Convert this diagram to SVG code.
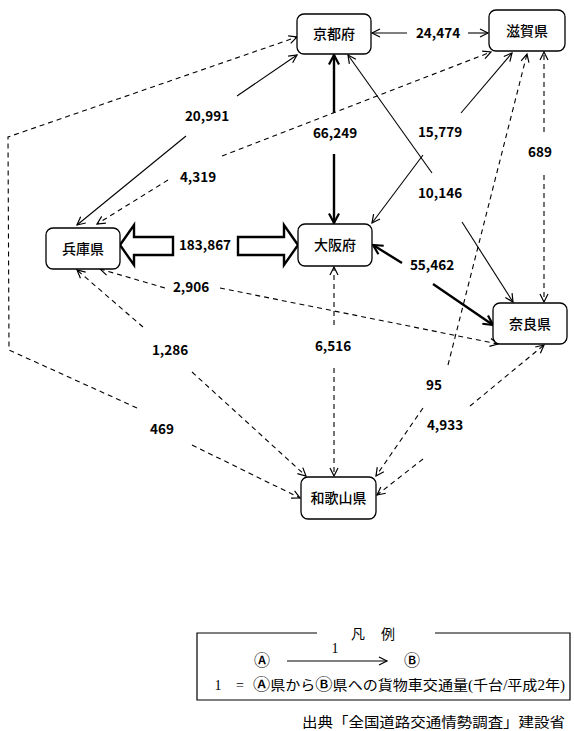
<svg xmlns="http://www.w3.org/2000/svg" width="574" height="731" viewBox="0 0 574 731">
<style>
.node rect{fill:#fff;stroke:#000;stroke-width:1.3}
.node text{font-family:"Noto Sans CJK JP","Noto Sans",sans-serif;font-size:14px;font-weight:500;text-anchor:middle}
.c{fill:none;stroke:#000;stroke-width:1.1}
.d{stroke-dasharray:5,4}
.t{stroke-width:2.4}
.lbl{font-family:"Noto Sans CJK JP","Noto Sans",sans-serif;font-size:13.5px;font-weight:700;text-anchor:middle}
.blk{fill:#fff;stroke:#000;stroke-width:2.4;stroke-linejoin:miter}
.lg{font-family:"Liberation Serif","Noto Sans CJK JP",serif;font-size:14px}
.cj{font-family:"Noto Sans CJK JP",sans-serif;font-weight:500;font-size:16px}
</style>
<defs>
<marker id="ah" markerUnits="userSpaceOnUse" markerWidth="12" markerHeight="12" refX="10" refY="6" orient="auto">
<path d="M2,2 L10,6 L2,10" fill="none" stroke="#000" stroke-width="1.2"/>
</marker>
<marker id="ahb" markerUnits="userSpaceOnUse" markerWidth="14" markerHeight="14" refX="11.5" refY="7" orient="auto">
<path d="M2,2 L11.5,7 L2,12" fill="none" stroke="#000" stroke-width="2.2"/>
</marker>
</defs>
<rect width="574" height="731" fill="#fff"/>
<g id="connectors">
<!-- 24,474 -->
<path class="c" d="M407,33 L372,33" marker-end="url(#ah)"/>
<path class="c" d="M468,33 L488,33" marker-end="url(#ah)"/>
<text class="lbl" x="438" y="38">24,474</text>
<!-- 20,991 -->
<path class="c" d="M237,96 L297,55" marker-end="url(#ah)"/>
<path class="c" d="M186,136 L77,225" marker-end="url(#ah)"/>
<text class="lbl" x="207" y="121">20,991</text>
<!-- 4,319 -->
<path class="c d" d="M222,156 L491,52" marker-end="url(#ah)"/>
<path class="c d" d="M168,180 L97,224" marker-end="url(#ah)"/>
<text class="lbl" x="198" y="182">4,319</text>
<!-- 469 -->
<path class="c d" d="M137,408 L9,350 L8,137 L297,37" marker-end="url(#ah)"/>
<path class="c d" d="M192,445 L300,498" marker-end="url(#ah)"/>
<text class="lbl" x="162" y="434">469</text>
<!-- 66,249 -->
<path class="c t" d="M334,113 L334,55" marker-end="url(#ahb)"/>
<path class="c t" d="M334,154 L334,223" marker-end="url(#ahb)"/>
<text class="lbl" x="335" y="138">66,249</text>
<!-- 15,779 -->
<path class="c" d="M461,113 L512,53" marker-end="url(#ah)"/>
<path class="c" d="M423,155 L372,223" marker-end="url(#ah)"/>
<text class="lbl" x="440" y="137">15,779</text>
<!-- 10,146 -->
<path class="c" d="M432,173 L348,55" marker-end="url(#ah)"/>
<path class="c" d="M462,222 L513,302" marker-end="url(#ah)"/>
<text class="lbl" x="440" y="198">10,146</text>
<!-- 689 -->
<path class="c d" d="M544,132 L544,52" marker-end="url(#ah)"/>
<path class="c d" d="M544,175 L544,302" marker-end="url(#ah)"/>
<text class="lbl" x="540" y="157">689</text>
<!-- 95 -->
<path class="c d" d="M448,365 L527,54" marker-end="url(#ah)"/>
<path class="c d" d="M423,408 L376,476" marker-end="url(#ah)"/>
<text class="lbl" x="434" y="390">95</text>
<!-- 4,933 -->
<path class="c d" d="M470,406 L544,345" marker-end="url(#ah)"/>
<path class="c d" d="M423,459 L377,495" marker-end="url(#ah)"/>
<text class="lbl" x="445" y="430">4,933</text>
<!-- 55,462 -->
<path class="c t" d="M402,263 L373,245" marker-end="url(#ahb)"/>
<path class="c t" d="M433,284 L493,325" marker-end="url(#ahb)"/>
<text class="lbl" x="432" y="270">55,462</text>
<!-- 2,906 -->
<path class="c d" d="M165,288 L100,269" marker-end="url(#ah)"/>
<path class="c d" d="M220,288 L498,344" marker-end="url(#ah)"/>
<text class="lbl" x="191" y="292">2,906</text>
<!-- 1,286 -->
<path class="c d" d="M143,327 L77,270" marker-end="url(#ah)"/>
<path class="c d" d="M192,372 L306,476" marker-end="url(#ah)"/>
<text class="lbl" x="170" y="355">1,286</text>
<!-- 6,516 -->
<path class="c d" d="M334,325 L334,267" marker-end="url(#ah)"/>
<path class="c d" d="M334,368 L334,476" marker-end="url(#ah)"/>
<text class="lbl" x="333" y="351">6,516</text>
<!-- 183,867 -->
<polygon class="blk" points="120,245 134,225 134,237 173,237 173,255 134,255 134,265"/>
<polygon class="blk" points="298,245 284,225 284,237 238,237 238,255 284,255 284,265"/>
<text class="lbl" x="205" y="250">183,867</text>
</g>
<g id="kyoto" class="node"><rect x="297" y="14" width="74" height="40" rx="7"/><text x="334" y="39">京都府</text></g>
<g id="shiga" class="node"><rect x="489" y="10" width="76" height="41" rx="7"/><text x="527" y="36">滋賀県</text></g>
<g id="hyogo" class="node"><rect x="46" y="228" width="74" height="41" rx="7"/><text x="83" y="254">兵庫県</text></g>
<g id="osaka" class="node"><rect x="298" y="224" width="74" height="42" rx="7"/><text x="335" y="250">大阪府</text></g>
<g id="nara" class="node"><rect x="493" y="303" width="74" height="41" rx="7"/><text x="530" y="329">奈良県</text></g>
<g id="wakayama" class="node"><rect x="301" y="477" width="75" height="42" rx="7"/><text x="338.5" y="503">和歌山県</text></g>
<g id="legend">
<path d="M317,633 L197,633 L197,700 L570,700 L570,633 L435,633" fill="none" stroke="#000" stroke-width="1.2"/>
<text class="lg" x="358" y="639" text-anchor="middle">凡</text>
<text class="lg" x="388" y="639" text-anchor="middle">例</text>
<text class="cj" x="262" y="666" text-anchor="middle">Ⓐ</text>
<path class="c" d="M287,661 L387,661" marker-end="url(#ah)"/>
<text class="lg" x="335" y="653" text-anchor="middle">1</text>
<text class="cj" x="412" y="666" text-anchor="middle">Ⓑ</text>
<text class="lg" x="218" y="690" text-anchor="middle">1</text>
<text class="lg" x="240" y="690" text-anchor="middle">=</text>
<text class="lg" x="253" y="690" textLength="312" lengthAdjust="spacingAndGlyphs"><tspan class="cj">Ⓐ</tspan>県から<tspan class="cj">Ⓑ</tspan>県への貨物車交通量(千台/平成2年)</text>
</g>
<text class="lg" x="302" y="727" textLength="263" lengthAdjust="spacingAndGlyphs">出典「全国道路交通情勢調査」建設省</text>
</svg>
